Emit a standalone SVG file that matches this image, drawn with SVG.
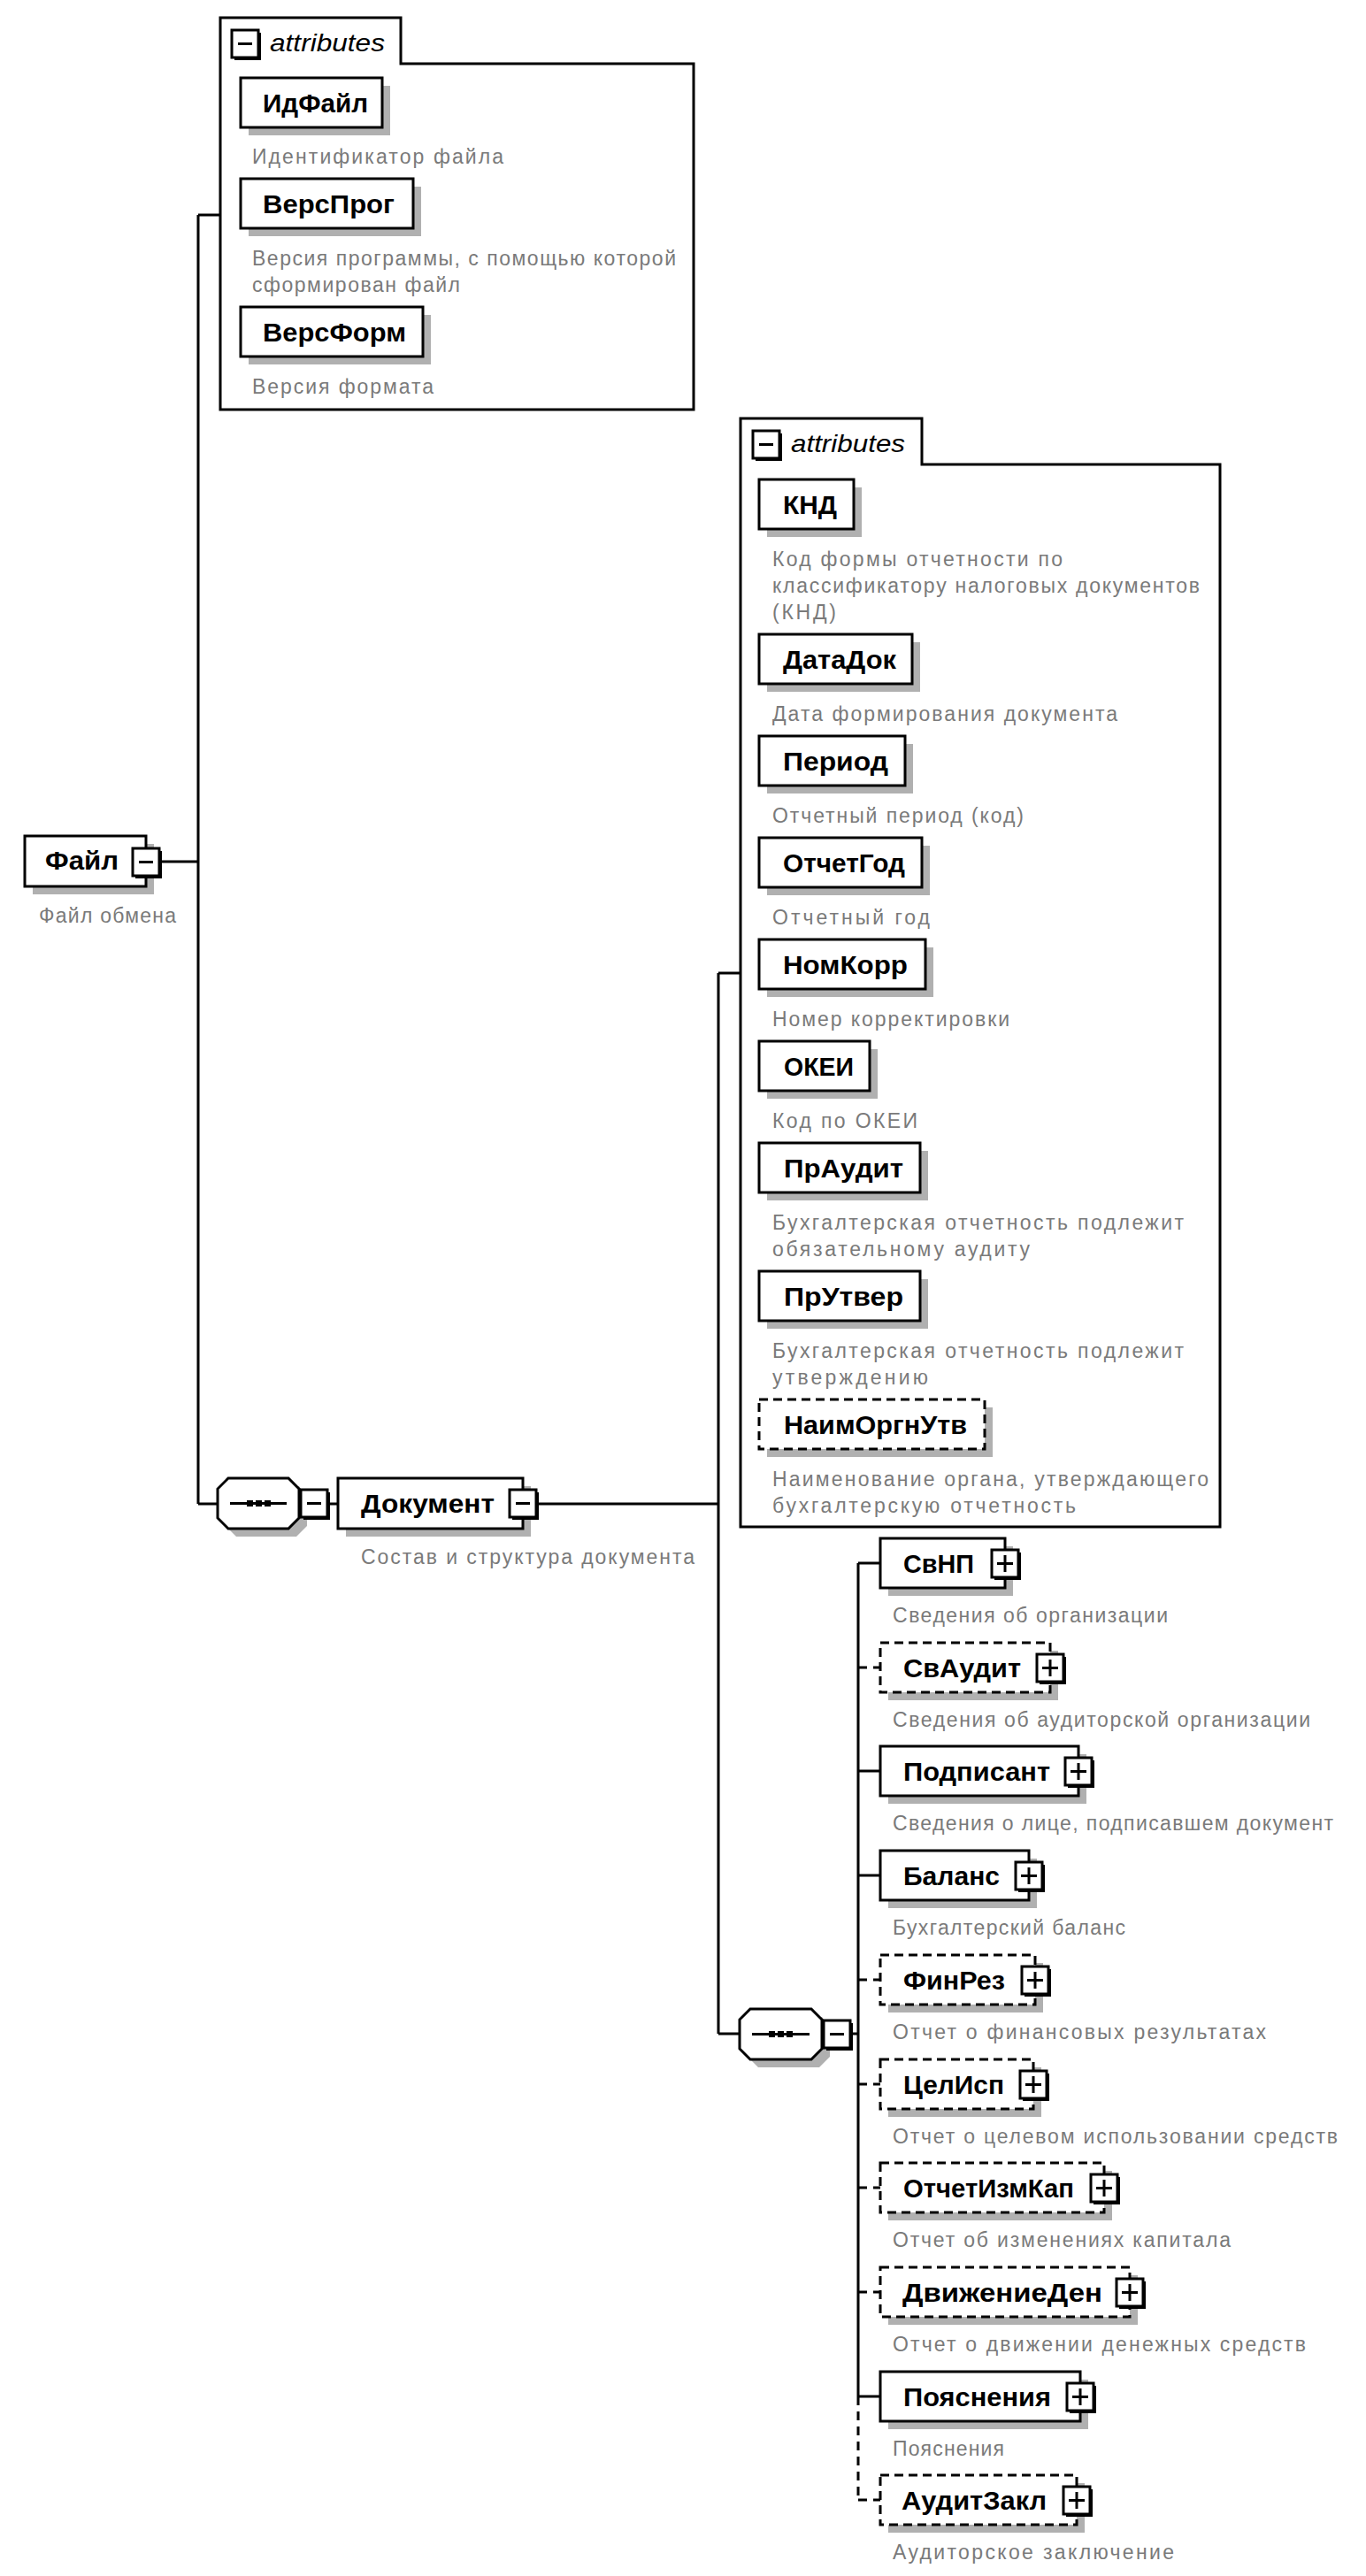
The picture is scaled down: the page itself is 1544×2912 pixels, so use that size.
<svg xmlns="http://www.w3.org/2000/svg" width="1544" height="2912" viewBox="0 0 1544 2912">
<style>
.bx{fill:#fff;stroke:#000;stroke-width:3}
.opt{stroke-dasharray:10 6}
.sh{fill:#b0b0b0}
.cont{fill:#fff;stroke:#000;stroke-width:3}
.nm{font-family:"Liberation Sans",Arial,sans-serif;font-weight:bold;font-size:29px;fill:#000}
.ds{font-family:"Liberation Sans",Arial,sans-serif;font-size:23px;fill:#7a7a7a}
.at{font-family:"Liberation Sans",Arial,sans-serif;font-style:italic;font-size:28px;fill:#000}
.ln{stroke:#000;stroke-width:3;fill:none}
.dl{stroke-dasharray:10 7}
.ic{fill:#fff;stroke:#000;stroke-width:3}
.icb{fill:#000}
.sym{stroke:#000;stroke-width:3}
</style>
<defs>
<g id="minus"><rect class="icb" x="3" y="3" width="30" height="31"/><rect class="ic" x="0" y="0" width="30" height="31"/><line class="sym" x1="7" y1="15.5" x2="23" y2="15.5"/></g>
<g id="plus"><rect class="icb" x="3" y="3" width="30" height="31"/><rect class="ic" x="0" y="0" width="30" height="31"/><line class="sym" x1="6" y1="15.5" x2="24" y2="15.5"/><line class="sym" x1="15" y1="6" x2="15" y2="25"/></g>
</defs>

<g id="connectors">
<path class="ln" d="M182 974 H224 M224 243 V1700 M224 243 H249 M224 1700 H246 M372 1700 H382 M608 1700 H812 M812 1100 V2299 M812 1100 H837 M812 2299 H836 M962 2299 H970 M970 1767 V2709"/>
<path class="ln dl" d="M970 2709 V2826"/>
<path class="ln" d="M970 1767 H995 M970 2002 H995 M970 2120 H995 M970 2709 H995"/>
<path class="ln dl" d="M970 1885 H995 M970 2238 H995 M970 2356 H995 M970 2473 H995 M970 2591 H995 M970 2826 H995"/>
</g>

<g id="node-fajl">
<rect class="sh" x="37" y="954" width="137" height="57"/>
<rect class="bx" x="28" y="945" width="137" height="57"/>
<text class="nm" x="51" y="983" textLength="83" lengthAdjust="spacingAndGlyphs">Файл</text>
<use href="#minus" x="150" y="959"/>
<text class="ds" x="44" y="1043" textLength="155">Файл обмена</text>
</g>

<g id="attributes-1">
<path class="cont" d="M249 72 V20 H453 V72 H784 V463 H249 Z"/>
<use href="#minus" x="262" y="34"/>
<text class="at" x="305" y="58" textLength="130" lengthAdjust="spacingAndGlyphs">attributes</text>
</g>

<g id="node-IdFajl">
<rect class="sh" x="281" y="97" width="160" height="56"/>
<rect class="bx" x="272" y="88" width="160" height="56"/>
<text class="nm" x="297" y="127" textLength="119" lengthAdjust="spacingAndGlyphs">ИдФайл</text>
<text class="ds" x="285" y="185" textLength="284">Идентификатор файла</text>
</g>
<g id="node-VersProg">
<rect class="sh" x="281" y="211" width="195" height="56"/>
<rect class="bx" x="272" y="202" width="195" height="56"/>
<text class="nm" x="297" y="241" textLength="149" lengthAdjust="spacingAndGlyphs">ВерсПрог</text>
<text class="ds" x="285" y="300" textLength="479">Версия программы, с помощью которой</text>
<text class="ds" x="285" y="330" textLength="235">сформирован файл</text>
</g>
<g id="node-VersForm">
<rect class="sh" x="281" y="356" width="206" height="56"/>
<rect class="bx" x="272" y="347" width="206" height="56"/>
<text class="nm" x="297" y="386" textLength="162" lengthAdjust="spacingAndGlyphs">ВерсФорм</text>
<text class="ds" x="285" y="445" textLength="205">Версия формата</text>
</g>

<g id="node-seq1">
<path class="sh" d="M267 1680 H338 L347 1692 V1725 L335 1737 H267 L255 1725 V1692 Z"/>
<path class="bx" d="M258 1671 H326 L338 1683 V1716 L326 1728 H258 L246 1716 V1683 Z"/>
<line class="ln" x1="260" y1="1699.5" x2="324" y2="1699.5"/>
<rect class="icb" x="279" y="1696" width="7" height="7"/><rect class="icb" x="289" y="1696" width="7" height="7"/><rect class="icb" x="299" y="1696" width="7" height="7"/>
<use href="#minus" x="340" y="1684"/>
</g>

<g id="node-Dokument">
<rect class="sh" x="391" y="1680" width="209" height="57"/>
<rect class="bx" x="382" y="1671" width="209" height="57"/>
<text class="nm" x="408" y="1710" textLength="151" lengthAdjust="spacingAndGlyphs">Документ</text>
<use href="#minus" x="576" y="1684"/>
<text class="ds" x="408" y="1768" textLength="377">Состав и структура документа</text>
</g>

<g id="attributes-2">
<path class="cont" d="M837 525 V473 H1042 V525 H1379 V1726 H837 Z"/>
<use href="#minus" x="851" y="487"/>
<text class="at" x="894" y="511" textLength="129" lengthAdjust="spacingAndGlyphs">attributes</text>
</g>

<g id="node-KND">
<rect class="sh" x="867" y="551" width="107" height="56"/>
<rect class="bx" x="858" y="542" width="107" height="56"/>
<text class="nm" x="885" y="581" textLength="61" lengthAdjust="spacingAndGlyphs">КНД</text>
<text class="ds" x="873" y="640" textLength="328">Код формы отчетности по</text>
<text class="ds" x="873" y="670" textLength="483">классификатору налоговых документов</text>
<text class="ds" x="873" y="700" textLength="72">(КНД)</text>
</g>
<g id="node-DataDok">
<rect class="sh" x="867" y="726" width="173" height="56"/>
<rect class="bx" x="858" y="717" width="173" height="56"/>
<text class="nm" x="885" y="756" textLength="128" lengthAdjust="spacingAndGlyphs">ДатаДок</text>
<text class="ds" x="873" y="815" textLength="390">Дата формирования документа</text>
</g>
<g id="node-Period">
<rect class="sh" x="867" y="841" width="165" height="56"/>
<rect class="bx" x="858" y="832" width="165" height="56"/>
<text class="nm" x="885" y="871" textLength="119" lengthAdjust="spacingAndGlyphs">Период</text>
<text class="ds" x="873" y="930" textLength="284">Отчетный период (код)</text>
</g>
<g id="node-OtchetGod">
<rect class="sh" x="867" y="956" width="184" height="56"/>
<rect class="bx" x="858" y="947" width="184" height="56"/>
<text class="nm" x="885" y="986" textLength="138" lengthAdjust="spacingAndGlyphs">ОтчетГод</text>
<text class="ds" x="873" y="1045" textLength="178">Отчетный год</text>
</g>
<g id="node-NomKorr">
<rect class="sh" x="867" y="1071" width="188" height="56"/>
<rect class="bx" x="858" y="1062" width="188" height="56"/>
<text class="nm" x="885" y="1101" textLength="141" lengthAdjust="spacingAndGlyphs">НомКорр</text>
<text class="ds" x="873" y="1160" textLength="268">Номер корректировки</text>
</g>
<g id="node-OKEI">
<rect class="sh" x="867" y="1186" width="125" height="56"/>
<rect class="bx" x="858" y="1177" width="125" height="56"/>
<text class="nm" x="886" y="1216" textLength="79" lengthAdjust="spacingAndGlyphs">ОКЕИ</text>
<text class="ds" x="873" y="1275" textLength="164">Код по ОКЕИ</text>
</g>
<g id="node-PrAudit">
<rect class="sh" x="867" y="1301" width="182" height="56"/>
<rect class="bx" x="858" y="1292" width="182" height="56"/>
<text class="nm" x="886" y="1331" textLength="135" lengthAdjust="spacingAndGlyphs">ПрАудит</text>
<text class="ds" x="873" y="1390" textLength="465">Бухгалтерская отчетность подлежит</text>
<text class="ds" x="873" y="1420" textLength="291">обязательному аудиту</text>
</g>
<g id="node-PrUtver">
<rect class="sh" x="867" y="1446" width="182" height="56"/>
<rect class="bx" x="858" y="1437" width="182" height="56"/>
<text class="nm" x="886" y="1476" textLength="135" lengthAdjust="spacingAndGlyphs">ПрУтвер</text>
<text class="ds" x="873" y="1535" textLength="465">Бухгалтерская отчетность подлежит</text>
<text class="ds" x="873" y="1565" textLength="176">утверждению</text>
</g>
<g id="node-NaimOrgnUtv">
<rect class="sh" x="867" y="1591" width="255" height="56"/>
<rect class="bx opt" x="858" y="1582" width="255" height="56"/>
<text class="nm" x="886" y="1621" textLength="207" lengthAdjust="spacingAndGlyphs">НаимОргнУтв</text>
<text class="ds" x="873" y="1680" textLength="493">Наименование органа, утверждающего</text>
<text class="ds" x="873" y="1710" textLength="343">бухгалтерскую отчетность</text>
</g>

<g id="node-seq2">
<path class="sh" d="M857 2280 H929 L938 2292 V2325 L926 2337 H857 L845 2325 V2292 Z"/>
<path class="bx" d="M848 2271 H917 L929 2283 V2316 L917 2328 H848 L836 2316 V2283 Z"/>
<line class="ln" x1="850" y1="2299.5" x2="915" y2="2299.5"/>
<rect class="icb" x="869" y="2296" width="7" height="7"/><rect class="icb" x="879" y="2296" width="7" height="7"/><rect class="icb" x="889" y="2296" width="7" height="7"/>
<use href="#minus" x="931" y="2284"/>
</g>

<g id="node-SvNP">
<rect class="sh" x="1004" y="1748" width="141" height="56"/>
<rect class="bx" x="995" y="1739" width="141" height="56"/>
<text class="nm" x="1021" y="1778" textLength="80" lengthAdjust="spacingAndGlyphs">СвНП</text>
<use href="#plus" x="1121" y="1752"/>
<text class="ds" x="1009" y="1834" textLength="311">Сведения об организации</text>
</g>
<g id="node-SvAudit">
<rect class="sh" x="1004" y="1866" width="192" height="56"/>
<rect class="bx opt" x="995" y="1857" width="192" height="56"/>
<text class="nm" x="1021" y="1896" textLength="133" lengthAdjust="spacingAndGlyphs">СвАудит</text>
<use href="#plus" x="1172" y="1870"/>
<text class="ds" x="1009" y="1952" textLength="472">Сведения об аудиторской организации</text>
</g>
<g id="node-Podpisant">
<rect class="sh" x="1004" y="1983" width="224" height="56"/>
<rect class="bx" x="995" y="1974" width="224" height="56"/>
<text class="nm" x="1021" y="2013" textLength="166" lengthAdjust="spacingAndGlyphs">Подписант</text>
<use href="#plus" x="1204" y="1987"/>
<text class="ds" x="1009" y="2069" textLength="498">Сведения о лице, подписавшем документ</text>
</g>
<g id="node-Balans">
<rect class="sh" x="1004" y="2101" width="168" height="56"/>
<rect class="bx" x="995" y="2092" width="168" height="56"/>
<text class="nm" x="1021" y="2131" textLength="109" lengthAdjust="spacingAndGlyphs">Баланс</text>
<use href="#plus" x="1148" y="2105"/>
<text class="ds" x="1009" y="2187" textLength="263">Бухгалтерский баланс</text>
</g>
<g id="node-FinRez">
<rect class="sh" x="1004" y="2219" width="175" height="56"/>
<rect class="bx opt" x="995" y="2210" width="175" height="56"/>
<text class="nm" x="1021" y="2249" textLength="115" lengthAdjust="spacingAndGlyphs">ФинРез</text>
<use href="#plus" x="1155" y="2223"/>
<text class="ds" x="1009" y="2305" textLength="422">Отчет о финансовых результатах</text>
</g>
<g id="node-TselIsp">
<rect class="sh" x="1004" y="2337" width="173" height="56"/>
<rect class="bx opt" x="995" y="2328" width="173" height="56"/>
<text class="nm" x="1021" y="2367" textLength="114" lengthAdjust="spacingAndGlyphs">ЦелИсп</text>
<use href="#plus" x="1153" y="2341"/>
<text class="ds" x="1009" y="2423" textLength="503">Отчет о целевом использовании средств</text>
</g>
<g id="node-OtchetIzmKap">
<rect class="sh" x="1004" y="2454" width="253" height="56"/>
<rect class="bx opt" x="995" y="2445" width="253" height="56"/>
<text class="nm" x="1021" y="2484" textLength="193" lengthAdjust="spacingAndGlyphs">ОтчетИзмКап</text>
<use href="#plus" x="1233" y="2458"/>
<text class="ds" x="1009" y="2540" textLength="382">Отчет об изменениях капитала</text>
</g>
<g id="node-DvizhenieDen">
<rect class="sh" x="1004" y="2572" width="282" height="56"/>
<rect class="bx opt" x="995" y="2563" width="282" height="56"/>
<text class="nm" x="1020" y="2602" textLength="226" lengthAdjust="spacingAndGlyphs">ДвижениеДен</text>
<use href="#plus" x="1262" y="2576"/>
<text class="ds" x="1009" y="2658" textLength="467">Отчет о движении денежных средств</text>
</g>
<g id="node-Poyasneniya">
<rect class="sh" x="1004" y="2690" width="226" height="56"/>
<rect class="bx" x="995" y="2681" width="226" height="56"/>
<text class="nm" x="1021" y="2720" textLength="167" lengthAdjust="spacingAndGlyphs">Пояснения</text>
<use href="#plus" x="1206" y="2694"/>
<text class="ds" x="1009" y="2776" textLength="126">Пояснения</text>
</g>
<g id="node-AuditZakl">
<rect class="sh" x="1004" y="2807" width="222" height="56"/>
<rect class="bx opt" x="995" y="2798" width="222" height="56"/>
<text class="nm" x="1019" y="2837" textLength="164" lengthAdjust="spacingAndGlyphs">АудитЗакл</text>
<use href="#plus" x="1202" y="2811"/>
<text class="ds" x="1009" y="2893" textLength="318">Аудиторское заключение</text>
</g>
</svg>
